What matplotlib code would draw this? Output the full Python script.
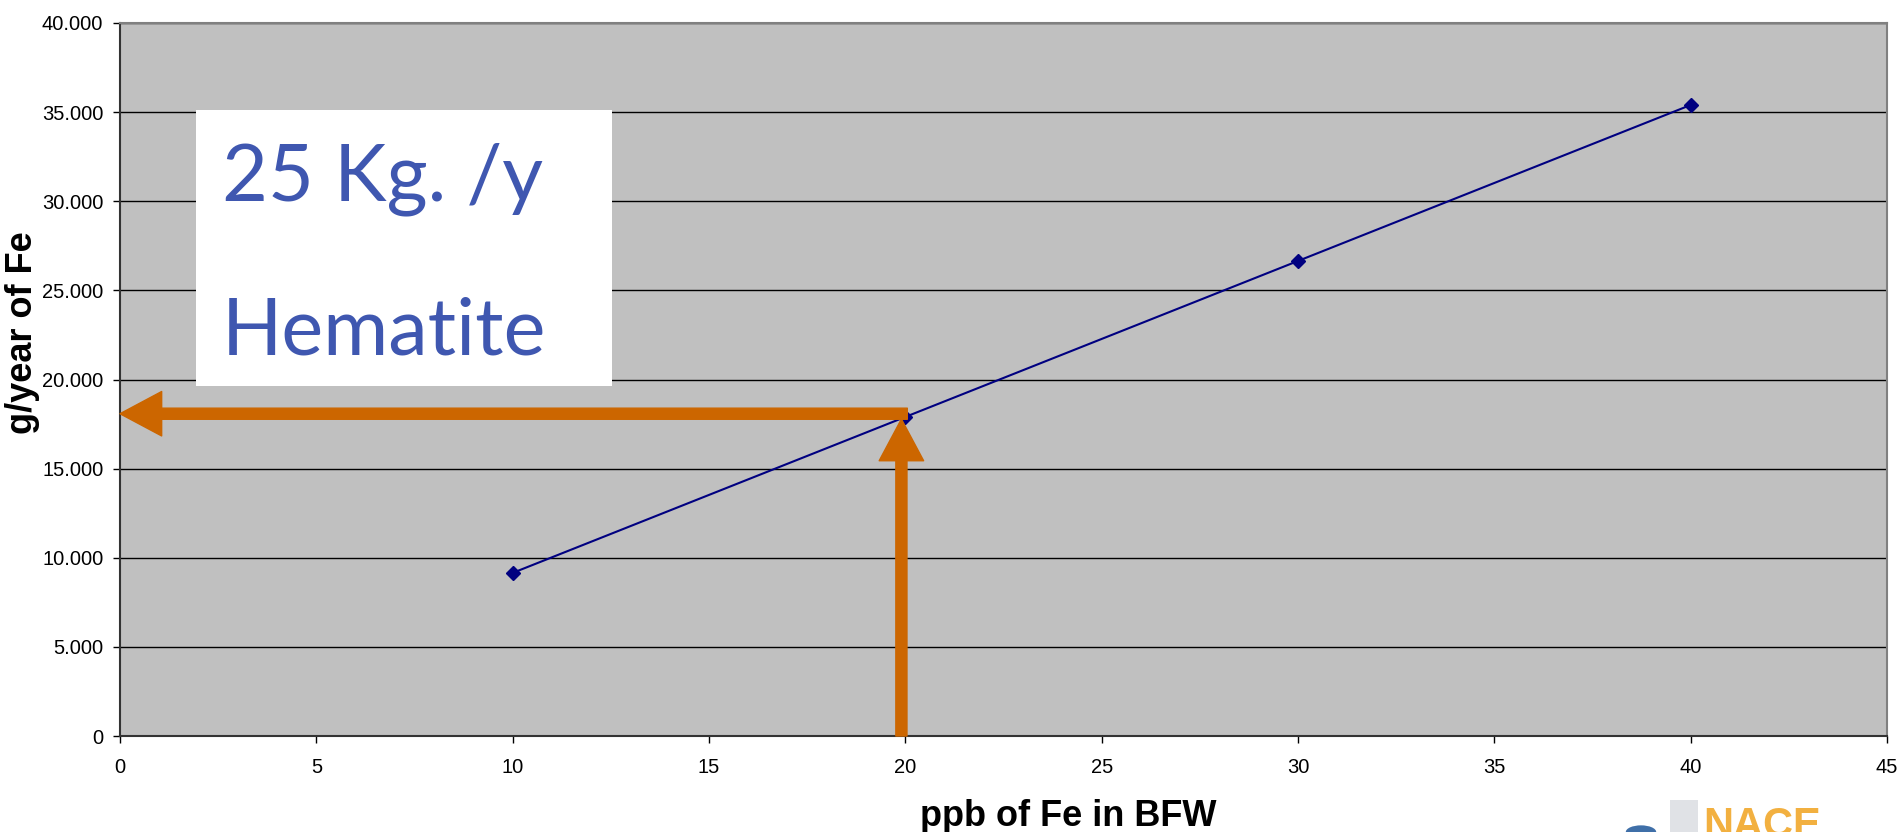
import matplotlib
matplotlib.use("Agg")
import matplotlib.pyplot as plt
from matplotlib.patches import Rectangle, FancyArrowPatch
from matplotlib.ticker import FuncFormatter

# Data
ppb_fe = [10, 20, 30, 40]
g_per_year = [9150, 17900, 26650, 35400]
x_ticks = [0, 5, 10, 15, 20, 25, 30, 35, 40, 45]
y_ticks = [0, 5000, 10000, 15000, 20000, 25000, 30000, 35000, 40000]
reading_x = 19.9
reading_y = 18080
box_lines = ["25 Kg. /y", "Hematite"]

plt.rcParams['font.family'] = ['Liberation Sans', 'DejaVu Sans']

fig = plt.figure(figsize=(19, 8.32), dpi=100)
ax = fig.add_axes([120/1900, 1-736/832, (1887-120)/1900, (736-23)/832])
ax.set_facecolor('#C0C0C0')

ax.set_xlim(0, 45)
ax.set_ylim(0, 40000)
ax.set_xticks(x_ticks)
ax.set_yticks(y_ticks)

def yfmt(v, pos):
    v = int(round(v))
    if v == 0:
        return "0"
    return f"{v:,}".replace(",", ".")
ax.yaxis.set_major_formatter(FuncFormatter(yfmt))

ax.grid(axis='y', color='black', linewidth=1.0)
ax.set_axisbelow(True)
ax.tick_params(axis='both', labelsize=14.5, length=5, width=1, color='black', direction='out')
ax.tick_params(axis='y', pad=7)
ax.tick_params(axis='x', pad=11)
for s in ['left', 'bottom']:
    ax.spines[s].set_color('#333333')
    ax.spines[s].set_linewidth(1.5)
for s in ['top', 'right']:
    ax.spines[s].set_color('#808080')
    ax.spines[s].set_linewidth(1.5)

ax.plot(ppb_fe, g_per_year, color='#000080', linewidth=1.5, marker='D', markersize=7, zorder=3)

fig.text(1068/1900, 6/832, "ppb of Fe in BFW", fontsize=26, fontweight='bold',
         ha='center', va='baseline')
fig.text(23/1900, 1-333/832, "g/year of Fe", fontsize=26, fontweight='bold',
         ha='center', va='center', rotation=90)

# White text box
ax.add_patch(Rectangle((1.94, 19635), 12.54-1.94, 35120-19635, facecolor='white', edgecolor='none', zorder=4))
ax.text(2.6, 30070, box_lines[0], fontsize=57, color='#3F57B0', family=['Lato', 'DejaVu Sans'],
        va='baseline', ha='left', zorder=5)
ax.text(2.6, 21375, box_lines[1], fontsize=57, color='#3F57B0', family=['Lato', 'DejaVu Sans'],
        va='baseline', ha='left', zorder=5)

orange = '#CC6600'
style = "simple,head_length=0.75,head_width=0.8,tail_width=0.2"
a1 = FancyArrowPatch((reading_x, 0), (reading_x, reading_y - 300), arrowstyle=style, mutation_scale=40,
                     color=orange, shrinkA=0, shrinkB=0, zorder=6, clip_on=False)
ax.add_patch(a1)
a2 = FancyArrowPatch((reading_x + 0.15, reading_y), (0, reading_y), arrowstyle=style, mutation_scale=40,
                     color=orange, shrinkA=0, shrinkB=0, zorder=6, clip_on=False)
ax.add_patch(a2)

# Partial NACE logo at bottom right
fig.patches.append(Rectangle((1670/1900, 0), 28/1900, 32/832, transform=fig.transFigure,
                             facecolor='#E0E2E6', edgecolor='none'))
fig.text(1703/1900, 1-806/832, "NACE", fontsize=30, fontweight='bold', color='#F2B040',
         va='top', ha='left')
fig.patches.append(plt.Circle((1641/1900, 1-832/832), 0.008, transform=fig.transFigure,
                              facecolor='#3F6FA8', edgecolor='none'))

fig.savefig("out.png", dpi=100)
